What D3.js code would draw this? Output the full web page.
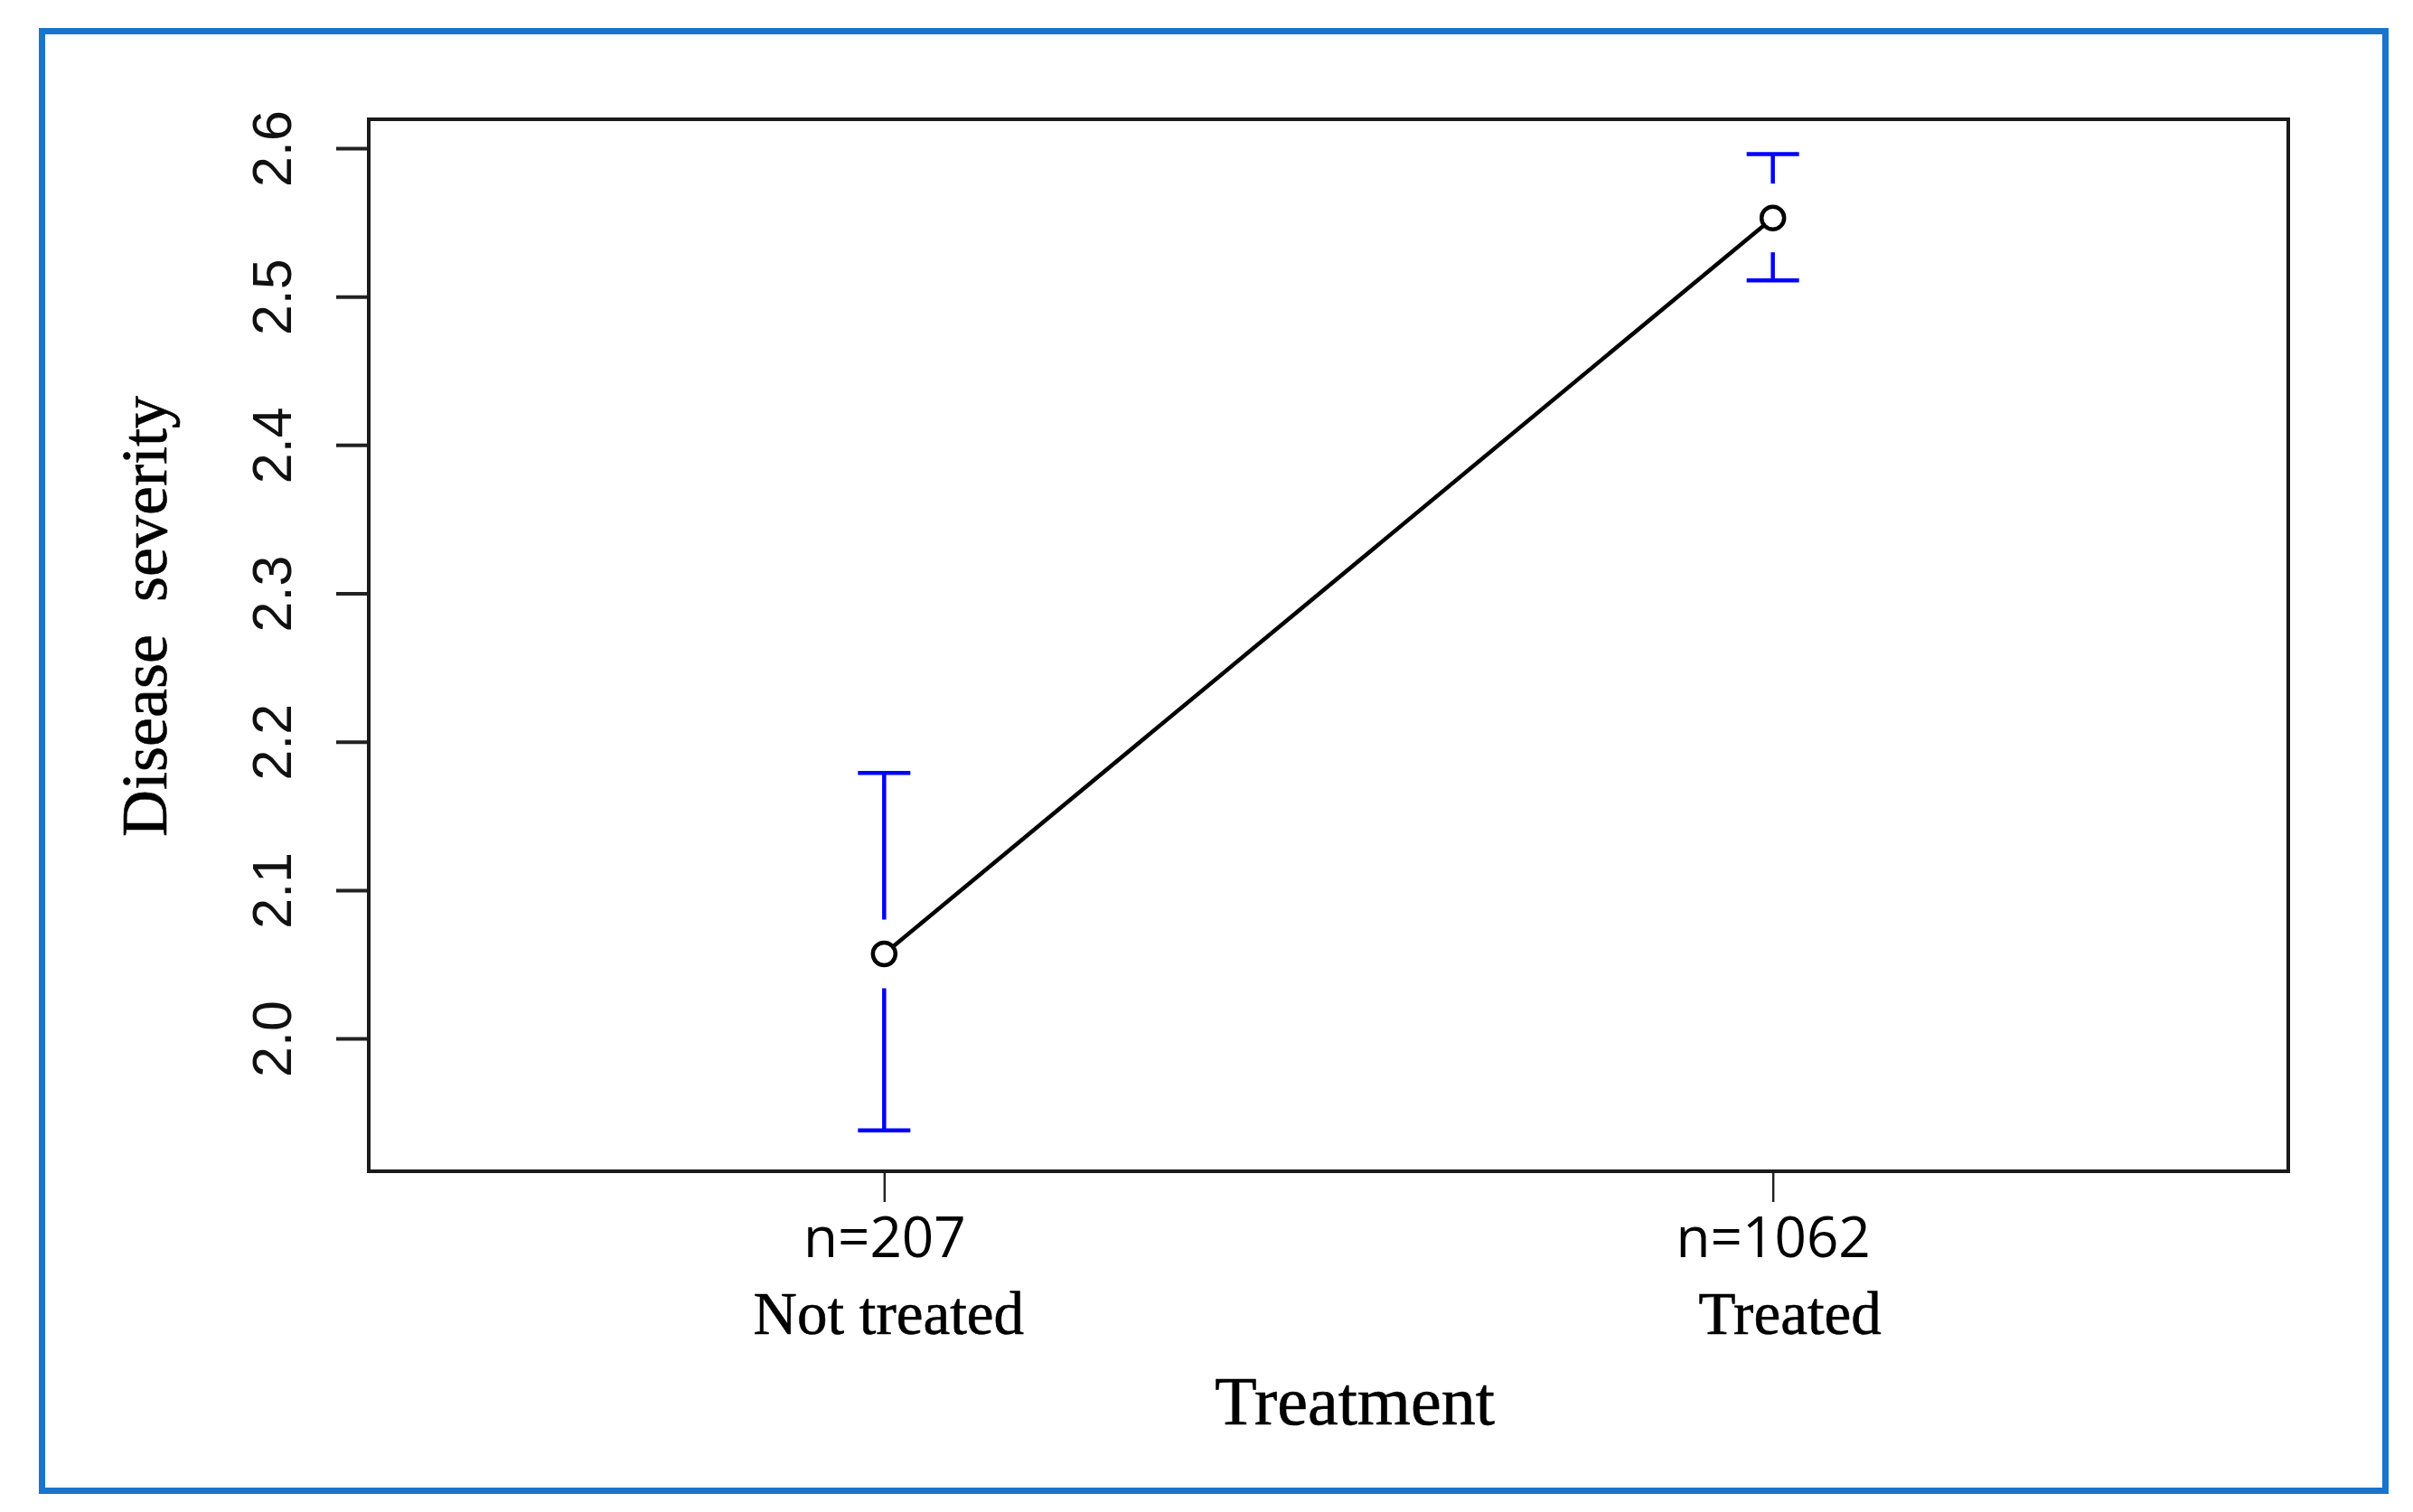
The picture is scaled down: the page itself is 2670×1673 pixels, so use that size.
<!DOCTYPE html>
<html>
<head>
<meta charset="utf-8">
<script src="https://cdn.jsdelivr.net/npm/d3@7"></script>
<style>
  body { margin: 0; background: #fff; }
  svg { display: block; }
</style>
</head>
<body>
<div id="chart-area"></div>
<script>
// values
var categories = ["Not treated", "Treated"];
var counts = [207, 1062];
var means = [2.057, 2.553];
var upper = [2.179, 2.596];
var lower = [1.938, 2.511];
var yTicks = [2.0, 2.1, 2.2, 2.3, 2.4, 2.5, 2.6];

var W = 2670, H = 1673;
var box = {left: 408, top: 132, right: 2532, bottom: 1296};

var svg = d3.select("#chart-area")
  .append("svg")
    .attr("width", W)
    .attr("height", H);

// blue frame round the figure
svg.append("rect")
    .attr("x", 46.5)
    .attr("y", 34.5)
    .attr("width", 2593)
    .attr("height", 1615)
    .attr("fill", "none")
    .attr("stroke", "#1874cd")
    .attr("stroke-width", 7);

var x = d3.scalePoint()
    .domain(categories)
    .range([box.left, box.right])
    .padding(0.58);

var y = d3.scaleLinear()
    .domain([1.9105, 2.6195])
    .range([box.bottom, box.top]);

// y axis
var yAxis = d3.axisLeft(y)
    .tickValues(yTicks)
    .tickSize(36)
    .tickFormat(d3.format(".1f"));

var gy = svg.append("g")
    .attr("transform", "translate(" + box.left + ",0)")
    .call(yAxis);
gy.select(".domain").remove();
gy.selectAll(".tick line")
    .attr("stroke", "#222")
    .attr("stroke-width", 4);
gy.selectAll(".tick text")
    .attr("transform", "rotate(-90)")
    .attr("x", 0)
    .attr("y", -86)
    .attr("dy", 0)
    .attr("text-anchor", "middle")
    .attr("font-family", "'Liberation Sans', Arial, sans-serif")
    .attr("font-size", 61)
    .attr("fill", "#111");

// x axis with the group sizes
var xAxis = d3.axisBottom(x)
    .tickSize(34)
    .tickFormat((d, i) => "n=" + counts[i]);

var gx = svg.append("g")
    .attr("transform", "translate(0," + box.bottom + ")")
    .call(xAxis);
gx.select(".domain").remove();
gx.selectAll(".tick line")
    .attr("stroke", "#222")
    .attr("stroke-width", 2.5);
gx.selectAll(".tick text")
    .attr("y", 95)
    .attr("dy", 0)
    .attr("font-family", "'Open Sans', sans-serif")
    .attr("font-size", 62)
    .attr("fill", "#000");

// category names under the counts
var nameShift = [5, 19];
svg.selectAll(".cat-label")
  .data(categories)
  .enter()
  .append("text")
    .attr("class", "cat-label")
    .attr("x", (d, i) => x(d) + nameShift[i])
    .attr("y", 1476)
    .attr("text-anchor", "middle")
    .attr("font-family", "'Liberation Serif', 'Times New Roman', serif")
    .attr("font-size", 67)
    .attr("fill", "#000")
    .attr("stroke", "#000")
    .attr("stroke-width", 0.6)
    .text((d) => d);

// plot box
svg.append("rect")
    .attr("x", box.left)
    .attr("y", box.top)
    .attr("width", box.right - box.left)
    .attr("height", box.bottom - box.top)
    .attr("fill", "none")
    .attr("stroke", "#1a1a1a")
    .attr("stroke-width", 4);

// error bars, with a gap round the point
var gap = 38, cap = 29;
var bars = svg.selectAll(".ci")
  .data(categories)
  .enter()
  .append("g")
    .attr("class", "ci")
    .attr("stroke", "#0000ff")
    .attr("stroke-width", 4.5);

bars.append("line")
    .attr("x1", (d) => x(d)).attr("x2", (d) => x(d))
    .attr("y1", (d, i) => y(upper[i]))
    .attr("y2", (d, i) => y(means[i]) - gap);
bars.append("line")
    .attr("x1", (d) => x(d)).attr("x2", (d) => x(d))
    .attr("y1", (d, i) => y(means[i]) + gap)
    .attr("y2", (d, i) => y(lower[i]));
bars.append("line")
    .attr("x1", (d) => x(d) - cap).attr("x2", (d) => x(d) + cap)
    .attr("y1", (d, i) => y(upper[i])).attr("y2", (d, i) => y(upper[i]));
bars.append("line")
    .attr("x1", (d) => x(d) - cap).attr("x2", (d) => x(d) + cap)
    .attr("y1", (d, i) => y(lower[i])).attr("y2", (d, i) => y(lower[i]));

// line between the means, stopping at the circles
var r = 12.5;
var x0 = x(categories[0]), y0 = y(means[0]);
var x1 = x(categories[1]), y1 = y(means[1]);
var len = Math.sqrt((x1 - x0) * (x1 - x0) + (y1 - y0) * (y1 - y0));
var ux = (x1 - x0) / len, uy = (y1 - y0) / len;
svg.append("line")
    .attr("x1", x0 + ux * r).attr("y1", y0 + uy * r)
    .attr("x2", x1 - ux * r).attr("y2", y1 - uy * r)
    .attr("stroke", "#000")
    .attr("stroke-width", 4.5);

svg.selectAll(".mean")
  .data(categories)
  .enter()
  .append("circle")
    .attr("class", "mean")
    .attr("cx", (d) => x(d))
    .attr("cy", (d, i) => y(means[i]))
    .attr("r", r)
    .attr("fill", "#fff")
    .attr("stroke", "#000")
    .attr("stroke-width", 4.5);

// axis titles
svg.append("text")
    .attr("x", 1499)
    .attr("y", 1576)
    .attr("text-anchor", "middle")
    .attr("font-family", "'Liberation Serif', 'Times New Roman', serif")
    .attr("font-size", 76)
    .attr("fill", "#000")
    .attr("stroke", "#000")
    .attr("stroke-width", 0.6)
    .text("Treatment");

svg.append("text")
    .attr("transform", "translate(184,682) rotate(-90)")
    .attr("text-anchor", "middle")
    .attr("font-family", "'Liberation Serif', 'Times New Roman', serif")
    .attr("font-size", 72)
    .attr("fill", "#000")
    .attr("stroke", "#000")
    .attr("stroke-width", 0.6)
    .style("white-space", "pre")
    .text("Disease  severity");
</script>
</body>
</html>
